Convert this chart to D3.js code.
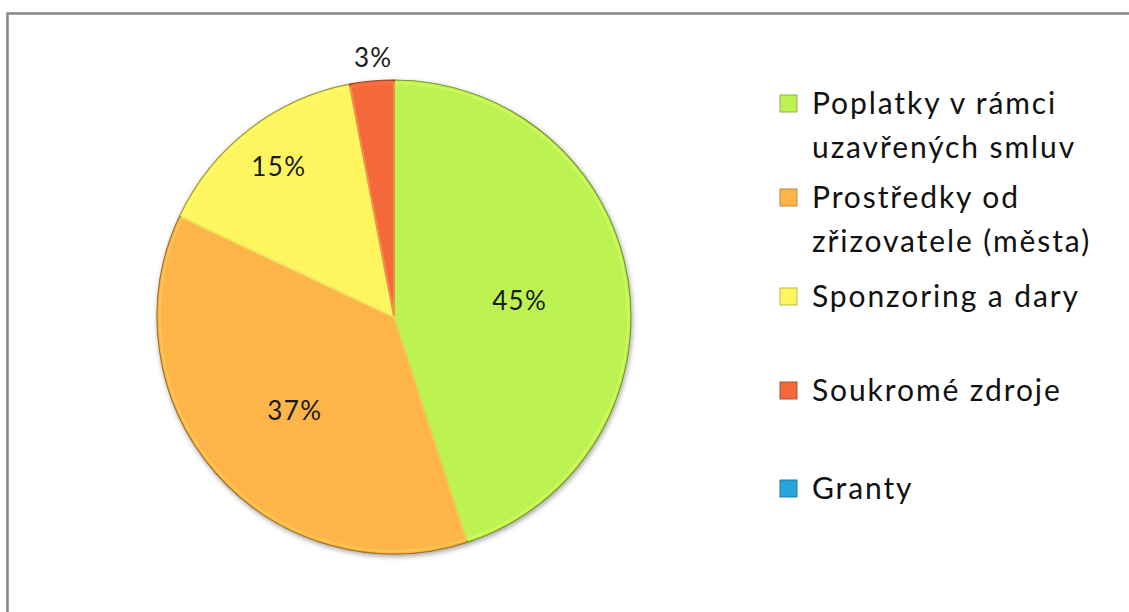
<!DOCTYPE html>
<html>
<head>
<meta charset="utf-8">
<script src="https://cdn.jsdelivr.net/npm/d3@7"></script>
<style>
  body { margin: 0; background: #fff; }
  svg { display: block; font-family: Lato, "Open Sans", sans-serif; }
</style>
</head>
<body>
<div id="chart"></div>
<script>
// data
const categories = [
  "Poplatky v rámci uzavřených smluv",
  "Prostředky od zřizovatele (města)",
  "Sponzoring a dary",
  "Soukromé zdroje",
  "Granty"
];
const legendLines = [
  ["Poplatky v rámci", "uzavřených smluv"],
  ["Prostředky od", "zřizovatele (města)"],
  ["Sponzoring a dary"],
  ["Soukromé zdroje"],
  ["Granty"]
];
const values = [45, 37, 15, 3, 0];
const colors = ["#bdf253", "#fdb54a", "#fdf65e", "#f4683a", "#27a4dc"];

// layout: label distance from the centre, as a share of the radius ("best fit")
const labelRadius = [0.52, 0.58, 0.82, 1.11, 0];
const legendY = [103, 197, 296, 390, 488];

const width = 1129, height = 612;
const cx = 394, cy = 317, radius = 237;

const svg = d3
  .select("#chart")
  .append("svg")
  .attr("width", width)
  .attr("height", height);

// frame (top + left only, the bottom is cut off)
svg.append("path")
  .attr("d", `M7.5,${height} L7.5,13.5 L${width},13.5`)
  .attr("fill", "none")
  .attr("stroke", "#868686")
  .attr("stroke-width", 2.5);

const defs = svg.append("defs");
const shadow = defs.append("filter").attr("id", "shadow")
  .attr("x", "-10%").attr("y", "-10%").attr("width", "120%").attr("height", "120%");
shadow.append("feDropShadow")
  .attr("dx", 1).attr("dy", 2).attr("stdDeviation", 2.5)
  .attr("flood-color", "#000").attr("flood-opacity", 0.35);

const pie = d3.pie().sort(null).value((d) => d);
const arcs = pie(values).filter((d) => d.value > 0);
const arc = d3.arc().innerRadius(0).outerRadius(radius);
const bevel = d3.arc().innerRadius(0).outerRadius(radius - 3);

const g = svg.append("g").attr("transform", `translate(${cx}, ${cy})`);

// slices
g.append("g").attr("filter", "url(#shadow)")
  .selectAll("path")
  .data(arcs)
  .join("path")
  .attr("d", arc)
  .attr("fill", (d) => colors[d.index])
  .attr("stroke", (d) => d3.color(colors[d.index]).darker(1.3))
  .attr("stroke-width", 1.2);

// light inner edge to suggest the bevel
g.append("g").selectAll("path")
  .data(arcs)
  .join("path")
  .attr("d", bevel)
  .attr("fill", "none")
  .attr("stroke", (d) => d3.color(colors[d.index]).brighter(0.4))
  .attr("stroke-width", 2)
  .attr("stroke-opacity", 0.6);

// data labels
g.append("g").selectAll("text")
  .data(arcs)
  .join("text")
  .attr("transform", (d) => {
    const r = radius * labelRadius[d.index];
    const [x, y] = d3.arc().innerRadius(r).outerRadius(r).centroid(d);
    return `translate(${x + 4}, ${y + 3})`;
  })
  .attr("text-anchor", "middle")
  .attr("dy", "0.36em")
  .style("font-size", "26px")
  .style("letter-spacing", "1.4px")
  .style("fill", "#1a1a1a")
  .text((d) => d.value + "%");

// legend
const legend = svg.append("g").attr("transform", "translate(780, 0)");
const items = legend.selectAll("g")
  .data(categories)
  .join("g")
  .attr("transform", (d, i) => `translate(0, ${legendY[i]})`);

items.append("rect")
  .attr("x", 0).attr("y", -8)
  .attr("width", 17).attr("height", 17)
  .attr("fill", (d, i) => colors[i])
  .attr("stroke", (d, i) => d3.color(colors[i]).darker(0.8))
  .attr("stroke-width", 1);

items.append("text")
  .style("font-size", "30px")
  .style("letter-spacing", "1.9px")
  .style("fill", "#111")
  .selectAll("tspan")
  .data((d, i) => legendLines[i])
  .join("tspan")
  .attr("x", 32)
  .attr("dy", (d, j) => (j === 0 ? "0.35em" : "44px"))
  .text((d) => d);
</script>
</body>
</html>
